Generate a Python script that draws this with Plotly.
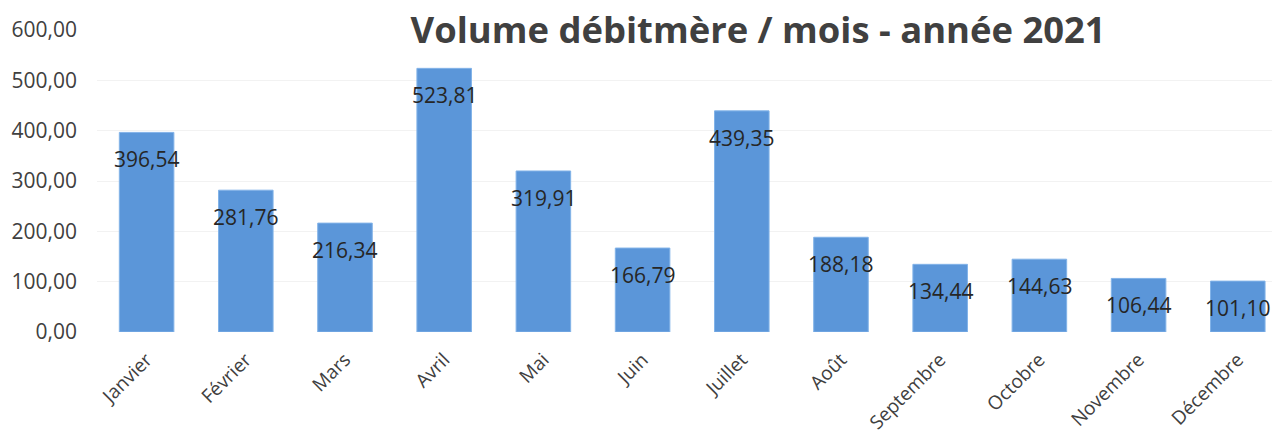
import plotly.graph_objects as go

months = ["Janvier", "Février", "Mars", "Avril", "Mai", "Juin", "Juillet",
          "Août", "Septembre", "Octobre", "Novembre", "Décembre"]
volumes = [396.54, 281.76, 216.34, 523.81, 319.91, 166.79, 439.35,
           188.18, 134.44, 144.63, 106.44, 101.10]
y_ticks = [0, 100, 200, 300, 400, 500, 600]
title_text = "Volume débitmère / mois - année 2021"

def fr(v):
    return f"{v:.2f}".replace(".", ",")

fig = go.Figure()
fig.add_trace(go.Bar(
    x=months, y=volumes,
    marker=dict(color="#5B96D9", line=dict(color="#82B3E8", width=1)),
    width=0.55,
    hoverinfo="x+y",
))

for m, v in zip(months, volumes):
    fig.add_annotation(x=m, y=v, text=fr(v), showarrow=False,
                       yanchor="middle", yshift=-27,
                       font=dict(family="Open Sans", size=21, color="#262626"))

fig.update_layout(
    width=1272, height=443,
    margin=dict(l=97, r=0, t=30, b=111),
    paper_bgcolor="white", plot_bgcolor="white",
    separators=", ",
    showlegend=False,
    title=dict(text=f"<b>{title_text}</b>", x=0.596, xanchor="center",
               y=0.932, yanchor="middle",
               font=dict(family="Open Sans", size=36.4, color="#404040")),
    xaxis=dict(tickangle=-45, showgrid=False, showline=False, ticks="",
               automargin=False,
               range=[-0.5, 11.345], ticklabelstandoff=12,
               tickfont=dict(family="Open Sans", size=19, color="#404040")),
    yaxis=dict(range=[0, 600], tickvals=y_ticks, tickformat=".2f",
               automargin=False,
               showgrid=True, gridcolor="#f2f2f2", zeroline=False,
               showline=False, ticks="", ticklabelstandoff=19,
               tickfont=dict(family="Open Sans", size=21, color="#404040")),
)

fig.write_html(
    "out.html",
    config={"displayModeBar": False},
    post_script="document.body.style.margin='0';document.body.style.overflow='hidden';",
)
